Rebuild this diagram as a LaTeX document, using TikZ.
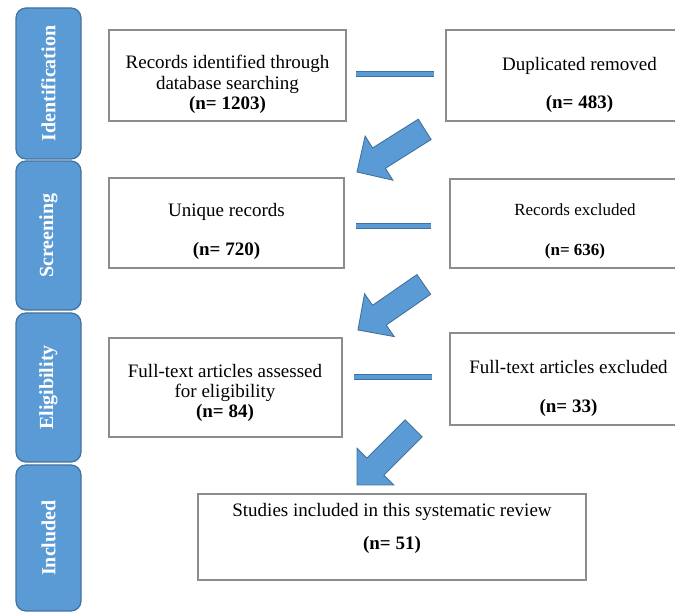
\documentclass[tikz,border=0pt]{standalone}
\usepackage{fontspec}
\setmainfont{Liberation Serif}
\definecolor{tabblue}{HTML}{5B9BD5}
\definecolor{tabedge}{HTML}{41719C}
\definecolor{boxedge}{HTML}{8C8C8C}
\tikzset{
 tabbox/.style={draw=tabedge, fill=tabblue, line width=1.2pt, rounded corners=10pt, rotate=90, text=white, font=\fontsize{20}{22}\selectfont\bfseries, inner sep=0pt},
 recbox/.style={draw=boxedge, line width=1.6pt, fill=white, inner sep=0pt},
 rectext/.style={align=center, anchor=north, inner sep=0pt, font=\fontsize{19}{20.5}\selectfont},
 barline/.style={draw=tabblue, line width=4.4pt, preaction={draw=tabedge, line width=6.4pt}},
 blockarrow/.style={fill=tabblue, draw=tabedge, line width=0.9pt, line join=miter}
}
\newcommand{\flowarrow}[3]{%
 \begin{scope}[shift={(#1,#2)}, rotate=#3]
  \filldraw[blockarrow] (0,0) -- (-26,26) -- (-26,12) -- (-80,12) -- (-80,-12) -- (-26,-12) -- (-26,-26) -- cycle;
 \end{scope}}
\begin{document}
\begin{tikzpicture}[x=1pt,y=1pt]
\useasboundingbox (0,0) rectangle (675,612);
\clip (0,0) rectangle (675,612);
\fill[white] (0,0) rectangle (675,612);
% phase tabs
\node[tabbox, minimum width=151pt, minimum height=65pt] (t1) at (48.5,528.5) {Identification};
\node[tabbox, minimum width=149pt, minimum height=65pt] (t2) at (48.5,376.5) {Screening};
\node[tabbox, minimum width=149pt, minimum height=65pt] (t3) at (48.5,224.5) {Eligibility};
\node[tabbox, minimum width=146pt, minimum height=65pt] (t4) at (48.5,74) {Included};
% boxes
\node[recbox, minimum width=237pt, minimum height=91pt] (b1) at (227.5,536.5) {};
\node[recbox, minimum width=264pt, minimum height=91pt] (b2) at (578,536.5) {};
\node[recbox, minimum width=235pt, minimum height=90pt] (b3) at (226.5,389) {};
\node[recbox, minimum width=250pt, minimum height=89pt] (b4) at (575,388.5) {};
\node[recbox, minimum width=233pt, minimum height=99pt] (b5) at (225.5,224.5) {};
\node[recbox, minimum width=238pt, minimum height=92pt] (b6) at (569,233) {};
\node[recbox, minimum width=388pt, minimum height=86pt] (b7) at (392,75) {};
% texts
\node[rectext] (b1t) at (227.5,557) {Records identified through\\database searching\\\textbf{(n= 1203)}};
\node[rectext] (b2t) at (579.5,555) {Duplicated removed\\[17.5pt]\textbf{(n= 483)}};
\node[rectext] (b3t) at (226.5,409) {Unique records\\[18.5pt]\textbf{(n= 720)}};
\node[rectext, font=\fontsize{17}{18.5}\selectfont] (b4t) at (575,408.6) {Records excluded\\[21.5pt]\textbf{(n= 636)}};
\node[rectext, font=\fontsize{19}{20}\selectfont] (b5t) at (225,248) {Full-text articles assessed\\for eligibility\\\textbf{(n= 84)}};
\node[rectext] (b6t) at (568.5,252) {Full-text articles excluded\\[18.5pt]\textbf{(n= 33)}};
\node[rectext] (b7t) at (392,109) {Studies included in this systematic review\\[12.5pt]\textbf{(n= 51)}};
% horizontal bars
\draw[barline] ([shift={(9,1.5)}]b1.east) -- ([shift={(-11,1.5)}]b2.west);
\draw[barline] ([shift={(11,-3)}]b3.east) -- ([shift={(-18,-2.5)}]b4.west);
\draw[barline] ([shift={(11,10.5)}]b5.east) -- ([shift={(-17,2)}]b6.west);
% block arrows
\flowarrow{357}{440}{212.2}
\flowarrow{358}{282}{214.7}
\flowarrow{357}{127}{225}
\end{tikzpicture}
\end{document}
